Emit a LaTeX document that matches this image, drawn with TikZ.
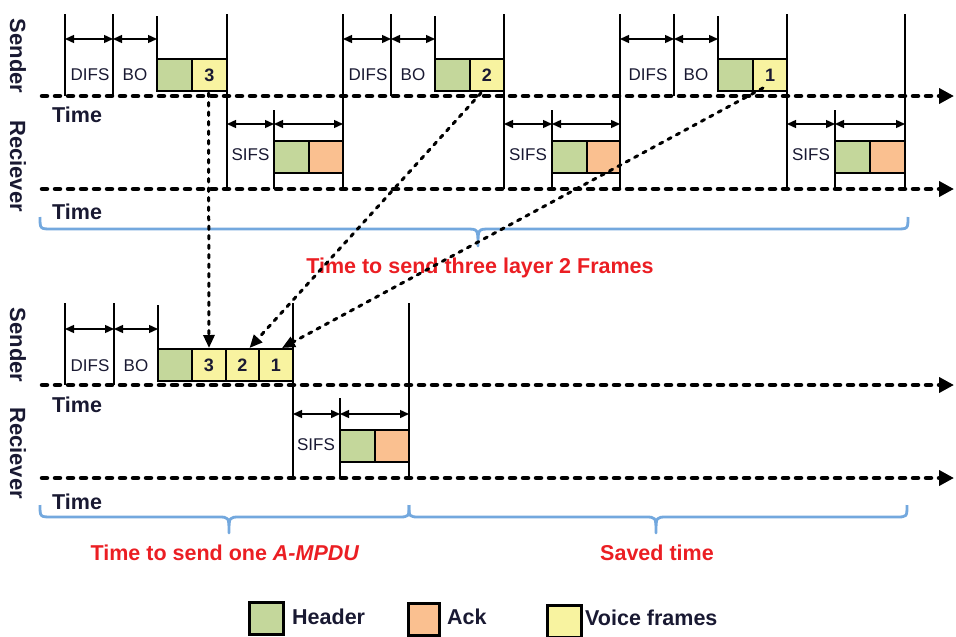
\documentclass[tikz,border=0pt]{standalone}
\usepackage{fontspec}
\setmainfont{Liberation Sans}
\usetikzlibrary{arrows.meta,calc}
\definecolor{hdr}{RGB}{196,215,155}
\definecolor{ackc}{RGB}{250,192,144}
\definecolor{vox}{RGB}{248,243,160}
\definecolor{brc}{RGB}{115,168,222}
\definecolor{redt}{RGB}{235,30,35}
\definecolor{txt}{RGB}{25,25,50}
\begin{document}
\begin{tikzpicture}[x=1pt,y=-1pt,
  vline/.style={line width=2.6pt},
  axis/.style={line width=4.5pt, dash pattern=on 5pt off 8pt, line cap=round, -{Triangle[length=15pt,width=15pt]}},
  span/.style={line width=1.4pt, {Triangle[length=9pt,width=8pt]}-{Triangle[length=9pt,width=8pt]}},
  cell/.style={draw, line width=2.6pt, minimum height=32pt, inner sep=0pt, outer sep=0pt, anchor=north west, text=txt, font=\fontsize{18}{18}\selectfont\bfseries},
  lbl/.style={text=txt, font=\fontsize{17}{17}\selectfont, inner sep=0pt},
  side/.style={rotate=-90, text=txt, font=\fontsize{22}{22}\selectfont\bfseries, inner sep=0pt},
  timel/.style={anchor=west, text=txt, font=\fontsize{21.5}{21.5}\selectfont\bfseries, inner sep=0pt},
  link/.style={line width=3pt, dash pattern=on 3.5pt off 6pt, line cap=round, -{Triangle[length=13pt,width=11pt]}},
  brace/.style={brc, line width=2.8pt, line join=round},
  redl/.style={text=redt, font=\fontsize{21.5}{21.5}\selectfont\bfseries, inner sep=0pt},
  legt/.style={anchor=west, text=txt, font=\fontsize{21.5}{21.5}\selectfont\bfseries, inner sep=0pt},
  legbox/.style={draw, line width=2.6pt, anchor=north west, inner sep=0pt}
]
\useasboundingbox (0,0) rectangle (956,637);

% ---------- top section ----------
\node[side] (sendA) at (18,56) {Sender};
\node[side] (recvA) at (18,166) {Reciever};
\node[timel] (timeA1) at (52,115) {Time};
\node[timel] (timeA2) at (52,212) {Time};

\foreach \s/\d/\b/\e/\a/\f/\n in {65/113/157/227/274/343/3, 343/391/435/504/552/620/2, 620/674/718/787/835/905/1}{
  \draw[vline] (\s,14) -- (\s,96);
  \draw[vline] (\d,14) -- (\d,96);
  \draw[vline] (\b,16) -- (\b,59);
  \draw[vline] (\e,14) -- (\e,189);
  \draw[vline] (\a,110) -- (\a,189);
  \draw[vline] (\f,14) -- (\f,189);
  \draw[span] (\s,39) -- (\d,39);
  \draw[span] (\d,39) -- (\b,39);
  \draw[span] (\e,124) -- (\a,124);
  \draw[span] (\a,124) -- (\f,124);
  \node[lbl] (difs\n) at ({(\s+\d)/2+1},75) {DIFS};
  \node[lbl] (bo\n) at ({(\d+\b)/2},75) {BO};
  \node[lbl] (sifs\n) at ({(\e+\a)/2},155) {SIFS};
  \node[cell, fill=hdr, minimum width=35pt] (h\n) at (\b,59) {};
  \node[cell, fill=vox, minimum width={\e-\b-35}] (v\n) at (\b+35,59) {\n};
  \node[cell, fill=hdr, minimum width=35pt] (ah\n) at (\a,141) {};
  \node[cell, fill=ackc, minimum width={\f-\a-35}] (ak\n) at (\a+35,141) {};
}

\coordinate (axA1s) at (42,96);  \coordinate (axA1e) at (954,96);
\coordinate (axA2s) at (42,189); \coordinate (axA2e) at (954,189);
\draw[axis] (axA1s) -- (axA1e);
\draw[axis] (axA2s) -- (axA2e);

% top brace
\draw[brace] (40,217) .. controls (40,229) .. (52,229) -- (466,229)
  .. controls (478,229) .. (478,246) .. controls (478,229) .. (490,229)
  -- (896,229) .. controls (908,229) .. (908,217);
\node[redl] (t3) at (480,268) {Time to send three layer 2 Frames};

% ---------- bottom section ----------
\node[side] (sendB) at (18,345) {Sender};
\node[side] (recvB) at (18,453) {Reciever};
\node[timel] (timeB1) at (52,405) {Time};
\node[timel] (timeB2) at (52,502) {Time};

\draw[vline] (65,303) -- (65,385);
\draw[vline] (114,303) -- (114,385);
\draw[vline] (158,305) -- (158,349);
\draw[vline] (293,303) -- (293,478);
\draw[vline] (340,398) -- (340,478);
\draw[vline] (409,303) -- (409,478);
\draw[span] (65,329) -- (114,329);
\draw[span] (114,329) -- (158,329);
\draw[span] (293,414) -- (340,414);
\draw[span] (340,414) -- (409,414);
\node[lbl] (difsB) at (90,366) {DIFS};
\node[lbl] (boB) at (136,366) {BO};
\node[lbl] (sifsB) at (316,445) {SIFS};

\node[cell, fill=hdr, minimum width=34pt] (mh) at (158,349) {};
\node[cell, fill=vox, minimum width=34pt] (m3) at (192,349) {3};
\node[cell, fill=vox, minimum width=33pt] (m2) at (226,349) {2};
\node[cell, fill=vox, minimum width=34pt] (m1) at (259,349) {1};
\node[cell, fill=hdr, minimum width=35pt] (mah) at (340,430) {};
\node[cell, fill=ackc, minimum width=34pt] (mak) at (375,430) {};

\coordinate (axB1s) at (42,385);  \coordinate (axB1e) at (954,385);
\coordinate (axB2s) at (42,478); \coordinate (axB2e) at (954,478);
\draw[axis] (axB1s) -- (axB1e);
\draw[axis] (axB2s) -- (axB2e);

% bottom braces
\draw[brace] (40,505) .. controls (40,517) .. (52,517) -- (218,517)
  .. controls (229,517) .. (229,533) .. controls (229,517) .. (240,517)
  -- (398,517) .. controls (409,517) .. (409,505);
\draw[brace] (409,505) .. controls (409,517) .. (420,517) -- (645,517)
  .. controls (656,517) .. (656,533) .. controls (656,517) .. (667,517)
  -- (896,517) .. controls (907,517) .. (907,505);
\node[redl] (tone) at (225,553) {Time to send one \textit{A-MPDU}};
\node[redl] (saved) at (657,553) {Saved time};

% ---------- links ----------
\draw[link] ($(v3.south)+(-1,2)$) -- ($(m3.north)+(0,-1)$);
\draw[link] ($(v2.south)+(-6,2)$) -- ($(m2.north)+(7,-1)$);
\draw[link] ($(v1.south)+(-7,-3)$) -- ($(m1.north)+(6,-1)$);

% ---------- legend ----------
\node[legbox, fill=hdr, minimum width=34pt, minimum height=32pt] (lg1) at (248,601) {};
\node[legt] (lt1) at (292,617) {Header};
\node[legbox, fill=ackc, minimum width=31pt, minimum height=32pt] (lg2) at (407,602) {};
\node[legt] (lt2) at (447,617) {Ack};
\node[legbox, fill=vox, minimum width=34pt, minimum height=32pt] (lg3) at (546,604) {};
\node[legt] (lt3) at (585,618) {Voice frames};
\end{tikzpicture}
\end{document}
